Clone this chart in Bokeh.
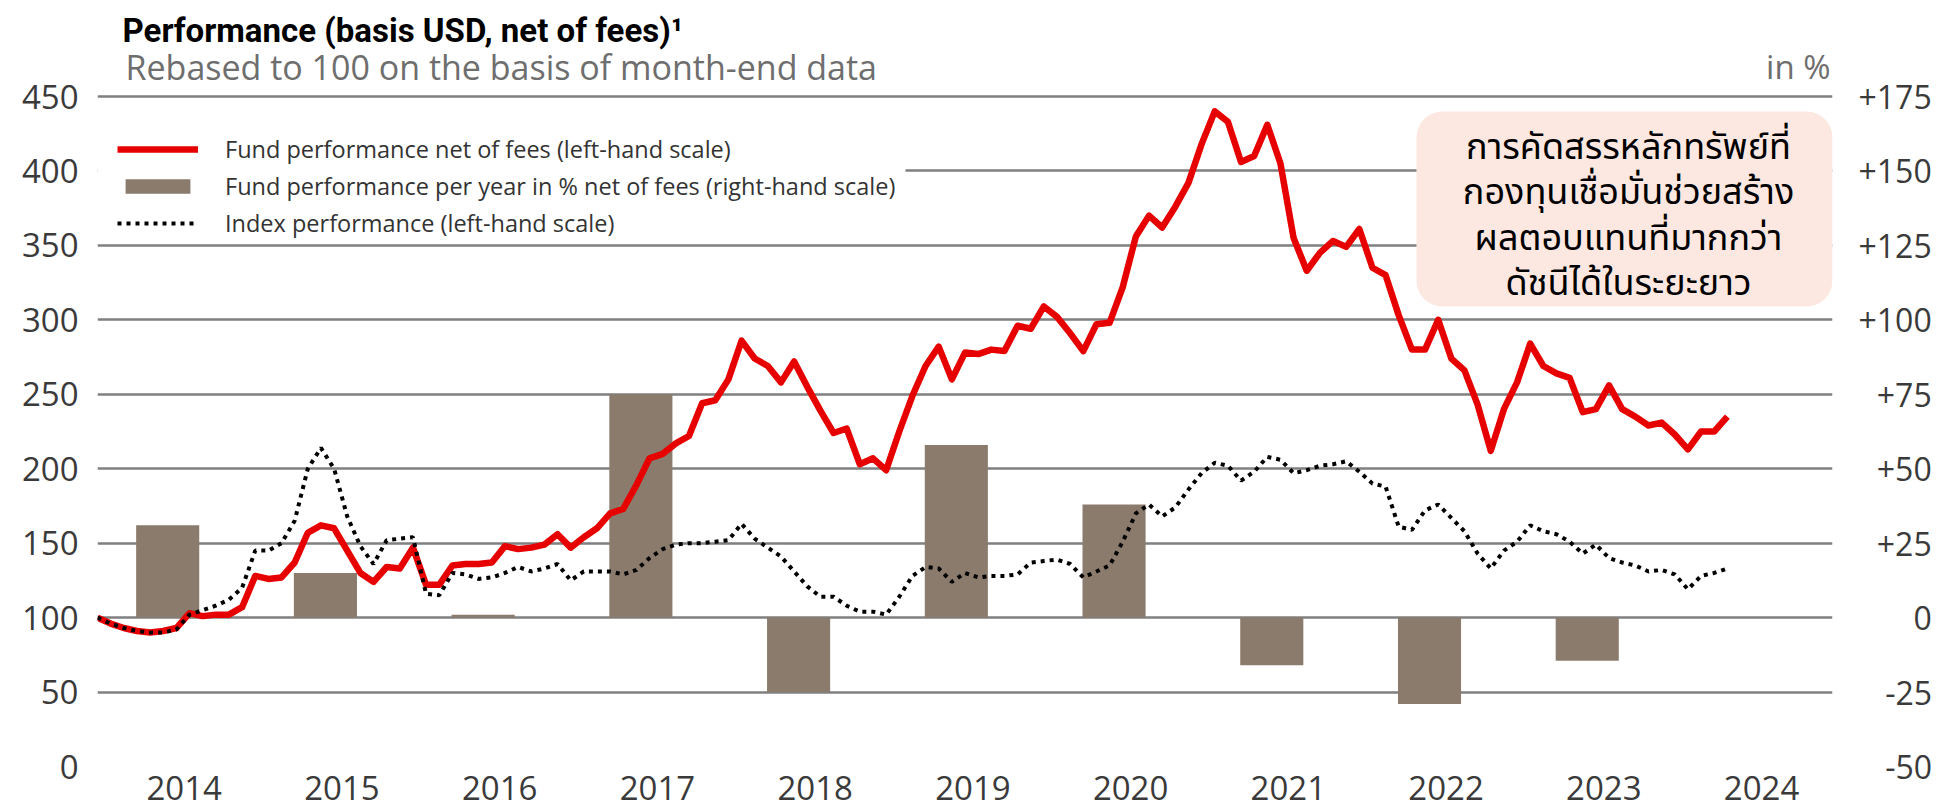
from bokeh.plotting import figure
from bokeh.models import (Range1d, LinearAxis, FixedTicker, Legend, LegendItem,
                          BoxAnnotation, Label)
from bokeh.embed import file_html
from bokeh.resources import INLINE

# ---------------- data ----------------
bar_years = [2014, 2015, 2016, 2017, 2018, 2019, 2020, 2021, 2022, 2023]
annual_pct = [31, 15, 1, 75, -25, 58, 38, -16, -29, -14.5]

# month-end values, first point = end of Dec 2013 (rebased 100), last = Apr 2024
fund = [100, 96, 93, 91, 90, 91, 93, 103, 101, 102,
        102, 107, 128, 126, 127, 137, 157, 162, 160, 145,
        130, 124, 134, 133, 147, 122, 122, 135, 136, 136,
        137, 148, 146, 147, 149, 156, 147, 154, 160, 170,
        173, 189, 207, 210, 217, 222, 244, 246, 260, 286,
        274, 269, 258, 272, 255, 239, 224, 227, 203, 207,
        199, 225, 249, 269, 282, 260, 278, 277, 280, 279,
        296, 294, 309, 302, 291, 279, 297, 298, 322, 356,
        370, 362, 376, 392, 418, 440, 433, 406, 410, 431,
        405, 355, 333, 345, 353, 349, 361, 335, 330, 303,
        280, 280, 300, 274, 266, 243, 212, 240, 258, 284,
        269, 264, 261, 238, 240, 256, 240, 235, 229, 231,
        223, 213, 225, 225, 235]

index = [100, 96, 93, 91, 90, 90, 92, 102, 105, 108,
         112, 120, 145, 145, 150, 165, 200, 214, 200, 168,
         148, 136, 152, 153, 154, 116, 115, 130, 129, 126,
         127, 130, 134, 131, 133, 136, 125, 131, 131, 131,
         129, 132, 140, 146, 149, 150, 150, 151, 152, 163,
         153, 147, 141, 131, 121, 114, 114, 108, 104, 104,
         102, 114, 128, 134, 133, 124, 130, 127, 128, 128,
         129, 137, 138, 139, 136, 127, 131, 135, 151, 170,
         176, 168, 174, 186, 197, 204, 202, 192, 198, 208,
         206, 197, 199, 202, 203, 205, 198, 190, 188, 161,
         159, 172, 176, 167, 158, 143, 133, 145, 151, 162,
         158, 156, 151, 143, 149, 140, 137, 135, 131, 132,
         129, 119, 128, 130, 133]

year_labels = ["2014", "2015", "2016", "2017", "2018", "2019",
               "2020", "2021", "2022", "2023", "2024"]
left_ticks = [0, 50, 100, 150, 200, 250, 300, 350, 400, 450]
right_ticks = [-50, -25, 0, 25, 50, 75, 100, 125, 150, 175]
right_labels = ["-50", "-25", "0", "+25", "+50", "+75", "+100", "+125", "+150", "+175"]

title_text = "Performance (basis USD, net of fees)\u00b9"
subtitle_text = "Rebased to 100 on the basis of month-end data"
unit_text = "in %"
legend_labels = ["Fund performance net of fees (left-hand scale)",
                 "Fund performance per year in % net of fees (right-hand scale)",
                 "Index performance (left-hand scale)"]
note_lines = ["การคัดสรรหลักทรัพย์ที่",
              "กองทุนเชื่อมั่นช่วยสร้าง",
              "ผลตอบแทนที่มากกว่า",
              "ดัชนีได้ในระยะยาว"]

# ---------------- styles / layout ----------------
RED = "#E60000"
BROWN = "#8A7B6D"
GRID = "#808080"
TXT = "#3a3a3a"
GREY = "#6e6e6e"
FONT = "Open Sans"

W, H = 1959, 809
FRAME_L, FRAME_R = 97, 1832          # horizontal extent of the plot area
TOP_GRID, FRAME_B = 96, 766          # pixel rows of the 450 and 0 grid lines
px_per_unit = (FRAME_B - TOP_GRID) / 450.0
y_end = 450 + TOP_GRID / px_per_unit
pct_end = 175 + TOP_GRID / (2 * px_per_unit)

x_month = [bar_years[0] + i / 12 for i in range(len(fund))]
bar_x = [y + 0.445 for y in bar_years]
label_pos = [round(int(s) + 0.55, 2) for s in year_labels]


def pad_right_label(s):
    if s.startswith("-"):
        return "\u2007\u2008" + s
    return "\u2007" * (4 - len(s)) + s


p = figure(width=W, height=H, x_range=Range1d(2014, 2025), y_range=Range1d(0, y_end),
           title=None, output_backend="svg", toolbar_location=None,
           min_border_left=FRAME_L, min_border_right=W - FRAME_R,
           min_border_top=0, min_border_bottom=H - FRAME_B)
p.outline_line_color = None
p.xgrid.visible = False
p.ygrid.ticker = FixedTicker(ticks=left_ticks)
p.ygrid.grid_line_color = GRID
p.ygrid.grid_line_width = 2.5

p.extra_y_ranges = {"pct": Range1d(-50, pct_end)}

bars = p.vbar(x=bar_x, width=0.40, top=annual_pct, bottom=0, y_range_name="pct",
              fill_color=BROWN, line_color=None)
red = p.line(x_month, fund, line_color=RED, line_width=6.5, line_join="round")
dots = p.line(x_month, index, line_color="black", line_width=4, line_dash="4 5")

# axes
xa = p.xaxis[0]
xa.ticker = FixedTicker(ticks=label_pos)
xa.major_label_overrides = {k: v for k, v in zip(label_pos, year_labels)}
xa.major_label_standoff = 9

ya = p.yaxis[0]
ya.ticker = FixedTicker(ticks=left_ticks)
ya.major_label_standoff = 19

ra = LinearAxis(y_range_name="pct", ticker=FixedTicker(ticks=right_ticks),
                major_label_overrides={t: pad_right_label(s) for t, s in zip(right_ticks, right_labels)},
                major_label_standoff=26)
p.add_layout(ra, "right")

for ax in [xa, ya, ra]:
    ax.axis_line_color = None
    ax.major_tick_line_color = None
    ax.minor_tick_line_color = None
    ax.major_tick_out = 0
    ax.major_tick_in = 0
    ax.major_label_text_font = FONT
    ax.major_label_text_color = TXT
xa.major_label_text_font_size = "33px"
ya.major_label_text_font_size = "33px"
ra.major_label_text_font_size = "32px"

# white area behind the legend (hides the grid line there)
p.add_layout(BoxAnnotation(left=0, right=808, top=638, bottom=526,
                           left_units="screen", right_units="screen",
                           top_units="screen", bottom_units="screen",
                           fill_color="white", fill_alpha=1, line_color=None))

legend = Legend(items=[LegendItem(label=legend_labels[0], renderers=[red]),
                       LegendItem(label=legend_labels[1], renderers=[bars]),
                       LegendItem(label=legend_labels[2], renderers=[dots])],
                location=(20, 527), padding=8, spacing=5, margin=0,
                glyph_width=81, glyph_height=18, label_height=30, label_standoff=27,
                border_line_color=None, background_fill_alpha=0,
                label_text_font=FONT, label_text_font_size="23.5px", label_text_color="#333333")
p.add_layout(legend)

# titles (positions relative to plot-area bottom-left)
p.add_layout(Label(x=25, y=FRAME_B - 30, x_units="screen", y_units="screen", text=title_text,
                   text_font="Roboto", text_font_style="bold", text_font_size="33px",
                   text_color="black", text_baseline="alphabetic"))
p.add_layout(Label(x=28, y=FRAME_B - 66, x_units="screen", y_units="screen", text=subtitle_text,
                   text_font=FONT, text_font_size="34px", text_color=GREY,
                   text_baseline="alphabetic"))
p.add_layout(Label(x=FRAME_R - 2 - FRAME_L, y=FRAME_B - 66, x_units="screen", y_units="screen",
                   text=unit_text, text_font=FONT, text_font_size="33px", text_color=GREY,
                   text_baseline="alphabetic", text_align="right"))

# note box
p.add_layout(BoxAnnotation(left=1319, right=FRAME_R - FRAME_L, top=655, bottom=460,
                           left_units="screen", right_units="screen",
                           top_units="screen", bottom_units="screen",
                           fill_color="#FCE8E1", fill_alpha=1, line_color=None,
                           border_radius=26))
for k, line in enumerate(note_lines):
    p.add_layout(Label(x=1531, y=619 - 45.5 * k, x_units="screen", y_units="screen",
                       text=line, text_font="Noto Sans Thai", text_font_size="36px",
                       text_color="black", text_align="center", text_baseline="alphabetic"))

open("out.html", "w").write(file_html(p, INLINE))
